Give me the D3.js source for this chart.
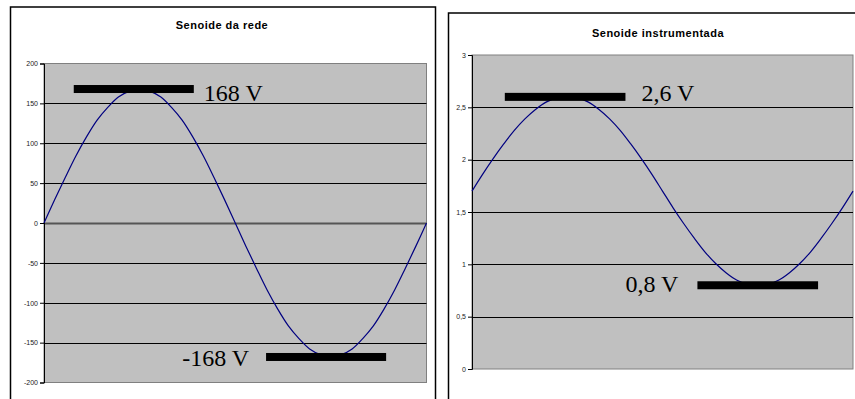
<!DOCTYPE html>
<html>
<head>
<meta charset="utf-8">
<script src="https://cdn.jsdelivr.net/npm/d3@7/dist/d3.min.js"></script>
<style>
  html, body { margin: 0; padding: 0; background: #fff; }
  svg { display: block; }
</style>
</head>
<body>
<svg id="chart" width="855" height="399"></svg>
<script>
// Phase angle (degrees) of each sample over one cycle
const phaseDeg = [0, 10, 20, 30, 40, 50, 60, 70, 80, 90, 100, 110, 120, 130, 140, 150, 160, 170, 180,
  190, 200, 210, 220, 230, 240, 250, 260, 270, 280, 290, 300, 310, 320, 330, 340, 350, 360];

// Mains voltage (V)
const redeValues = [0, 29, 57, 84, 108, 129, 145, 158, 165, 168, 165, 158, 145, 129, 108, 84, 57, 29, 0,
  -29, -57, -84, -108, -129, -145, -158, -165, -168, -165, -158, -145, -129, -108, -84, -57, -29, 0];

// Conditioned signal (V)
const instrValues = [1.70, 1.86, 2.01, 2.15, 2.28, 2.39, 2.48, 2.55, 2.59, 2.60, 2.59, 2.55, 2.48, 2.39, 2.28, 2.15, 2.01, 1.86, 1.70,
  1.54, 1.39, 1.25, 1.12, 1.01, 0.92, 0.85, 0.81, 0.80, 0.81, 0.85, 0.92, 1.01, 1.12, 1.25, 1.39, 1.54, 1.70];

const redeTicks = [-200, -150, -100, -50, 0, 50, 100, 150, 200];
const instrTicks = [0, 0.5, 1, 1.5, 2, 2.5, 3];

const titles = ["Senoide da rede", "Senoide instrumentada"];

// Peak / trough markers: level, phase span and label
const redeMarkValues = [168, -168];
const redeMarkFrom = [28, 209];
const redeMarkTo = [141, 322];
const redeMarkLabels = ["168 V", "-168 V"];

const instrMarkValues = [2.6, 0.8];
const instrMarkFrom = [31, 213];
const instrMarkTo = [145, 327];
const instrMarkLabels = ["2,6 V", "0,8 V"];

const svg = d3.select("#chart");
const fmtComma = d => String(d).replace(".", ",");

function drawChart(cfg) {
  const g = svg.append("g");

  // outer frame
  g.append("rect")
    .attr("x", cfg.frame.x).attr("y", cfg.frame.y)
    .attr("width", cfg.frame.w).attr("height", cfg.frame.h)
    .attr("fill", "#fff").attr("stroke", "#000").attr("stroke-width", 1.5);

  // title
  g.append("text")
    .attr("x", cfg.titleX).attr("y", cfg.titleY)
    .attr("text-anchor", "middle")
    .attr("font-family", "Arial, 'Liberation Sans', sans-serif")
    .attr("font-weight", "bold")
    .attr("font-size", 11)
    .attr("letter-spacing", 0.5)
    .attr("fill", "#000")
    .text(cfg.title);

  const x = d3.scaleLinear().domain([0, 360]).range([cfg.left, cfg.right]);
  const y = d3.scaleLinear().domain(cfg.domain).range([cfg.bottom, cfg.top]);

  // plot area
  g.append("rect")
    .attr("x", cfg.left).attr("y", cfg.top)
    .attr("width", cfg.right - cfg.left).attr("height", cfg.bottom - cfg.top)
    .attr("fill", "#c0c0c0").attr("stroke", "#808080").attr("stroke-width", 1);

  // horizontal gridlines
  g.append("g").selectAll("line")
    .data(cfg.ticks.filter(t => t !== cfg.domain[0] && t !== cfg.domain[1]))
    .join("line")
    .attr("x1", cfg.left).attr("x2", cfg.right)
    .attr("y1", d => Math.round(y(d)) + 0.5).attr("y2", d => Math.round(y(d)) + 0.5)
    .attr("stroke", d => d === 0 ? "#555" : "#000")
    .attr("stroke-width", d => d === 0 ? 2 : 1);

  // value axis
  const axis = d3.axisLeft(y).tickValues(cfg.ticks).tickSize(4).tickPadding(2).tickFormat(cfg.format);
  const ax = g.append("g").attr("transform", `translate(${cfg.left},0)`).call(axis);
  ax.select(".domain").attr("stroke", "#000");
  ax.selectAll(".tick line").attr("stroke", "#000");
  ax.selectAll(".tick text")
    .attr("font-family", "Arial, 'Liberation Sans', sans-serif")
    .attr("font-size", 7)
    .attr("fill", "#222");

  // signal
  const pts = phaseDeg.map((p, i) => [p, cfg.values[i]]);
  g.append("path")
    .datum(pts)
    .attr("fill", "none")
    .attr("stroke", "#000080")
    .attr("stroke-width", 1.2)
    .attr("d", d3.line().x(d => x(d[0])).y(d => y(d[1])).curve(d3.curveCatmullRom));

  // level markers with labels
  cfg.markValues.forEach((v, i) => {
    g.append("rect")
      .attr("x", x(cfg.markFrom[i]))
      .attr("y", y(v) - 4)
      .attr("width", x(cfg.markTo[i]) - x(cfg.markFrom[i]))
      .attr("height", 8)
      .attr("fill", "#000");
    const lbl = cfg.labelLayout[i];
    g.append("text")
      .attr("x", lbl.anchor === "start" ? x(cfg.markTo[i]) + lbl.dx : x(cfg.markFrom[i]) - lbl.dx)
      .attr("y", y(v) + lbl.dy)
      .attr("text-anchor", lbl.anchor)
      .attr("font-family", "'Liberation Serif', 'Times New Roman', serif")
      .attr("font-size", 24)
      .attr("fill", "#000")
      .text(cfg.markLabels[i]);
  });
}

drawChart({
  frame: { x: 10.5, y: 7, w: 425, h: 420 },
  title: titles[0], titleX: 222, titleY: 29,
  left: 44, right: 426.5, top: 63.5, bottom: 382.5,
  domain: [-200, 200], ticks: redeTicks, format: d => String(d),
  values: redeValues,
  markValues: redeMarkValues, markFrom: redeMarkFrom, markTo: redeMarkTo, markLabels: redeMarkLabels,
  labelLayout: [{ anchor: "start", dx: 10, dy: 12 }, { anchor: "end", dx: 17, dy: 9 }]
});

drawChart({
  frame: { x: 448.5, y: 13, w: 420, h: 420 },
  title: titles[1], titleX: 658, titleY: 37,
  left: 472, right: 853, top: 55, bottom: 369,
  domain: [0, 3], ticks: instrTicks, format: fmtComma,
  values: instrValues,
  markValues: instrMarkValues, markFrom: instrMarkFrom, markTo: instrMarkTo, markLabels: instrMarkLabels,
  labelLayout: [{ anchor: "start", dx: 16, dy: 4 }, { anchor: "end", dx: 19, dy: 7 }]
});
</script>
</body>
</html>
